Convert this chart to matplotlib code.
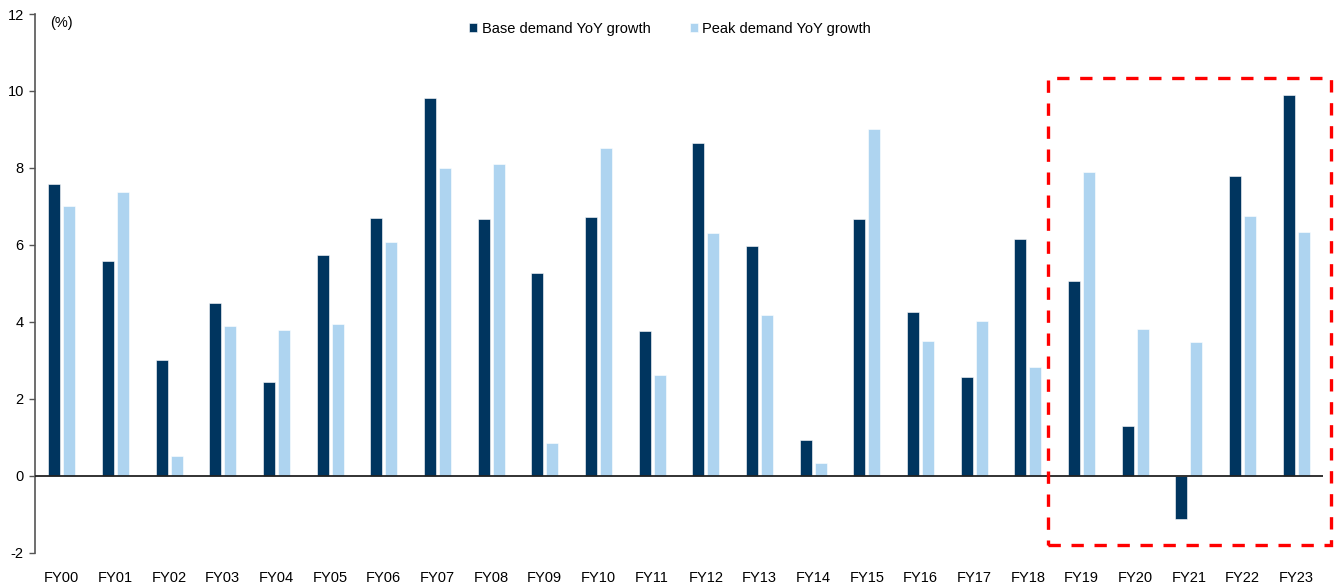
import matplotlib
matplotlib.use("Agg")
import matplotlib.pyplot as plt
import numpy as np
from matplotlib.patches import Rectangle

plt.rcParams['font.family'] = ['Liberation Sans', 'DejaVu Sans']

years = ["FY00", "FY01", "FY02", "FY03", "FY04", "FY05", "FY06", "FY07", "FY08",
         "FY09", "FY10", "FY11", "FY12", "FY13", "FY14", "FY15", "FY16", "FY17",
         "FY18", "FY19", "FY20", "FY21", "FY22", "FY23"]
base_growth = [7.59, 5.57, 3.02, 4.49, 2.43, 5.74, 6.70, 9.82, 6.68, 5.27, 6.72, 3.75,
               8.64, 5.98, 0.94, 6.68, 4.25, 2.56, 6.16, 5.05, 1.28, -1.13, 7.78, 9.90]
peak_growth = [7.02, 7.38, 0.52, 3.88, 3.78, 3.94, 6.08, 7.99, 8.09, 0.86, 8.52, 2.61,
               6.30, 4.19, 0.34, 9.01, 3.50, 4.02, 2.83, 7.89, 3.82, 3.48, 6.74, 6.34]
y_ticks = [-2, 0, 2, 4, 6, 8, 10, 12]

dark = "#00355F"
light = "#AED4F0"

fig = plt.figure(figsize=(13.39, 5.84), dpi=100)
ax = fig.add_axes([0.0261, 0.0536, 0.988 - 0.0261, 0.976 - 0.0536])

x = np.arange(len(years))
w = 0.225
ax.bar(x - 0.14, base_growth, width=w, color=dark, edgecolor="white", linewidth=0.4,
       label="Base demand YoY growth", zorder=2)
ax.bar(x + 0.14, peak_growth, width=w, color=light, edgecolor="white", linewidth=0.4,
       label="Peak demand YoY growth", zorder=2)

ax.set_xlim(-0.5, len(years) - 0.5)
ax.set_ylim(-2, 12)
ax.set_yticks(y_ticks)
ax.set_yticklabels([str(t) for t in y_ticks], fontsize=10.5)
ax.set_xticks(x)
ax.set_xticklabels(years, fontsize=10.5)
ax.tick_params(axis="x", length=0, pad=13)
ax.tick_params(axis="y", length=4, width=1, color="#555555", direction="out", pad=4)

for side in ["top", "right", "bottom"]:
    ax.spines[side].set_visible(False)
ax.spines["left"].set_color("#555555")
ax.spines["left"].set_linewidth(1.2)
ax.axhline(0, color="#222222", linewidth=1.3, zorder=3)

ax.text(0.012, 0.984, "(%)", transform=ax.transAxes, fontsize=10.5, va="center", ha="left")

fig.legend(loc="center left", bbox_to_anchor=(462 / 1339, 1 - 29 / 584), ncol=2,
           frameon=False, fontsize=10.5, borderpad=0, handlelength=0.55,
           handleheight=0.55, handletextpad=0.3, columnspacing=2.7)

# Highlight box around the recent years
box = Rectangle((18.38, -1.79), 23.65 - 18.38, 10.35 + 1.79, fill=False,
                edgecolor="#FF0000", linewidth=2.4, linestyle=(0, (3.7, 3.2)),
                clip_on=False, zorder=4)
ax.add_patch(box)

fig.savefig("out.png", dpi=100)
